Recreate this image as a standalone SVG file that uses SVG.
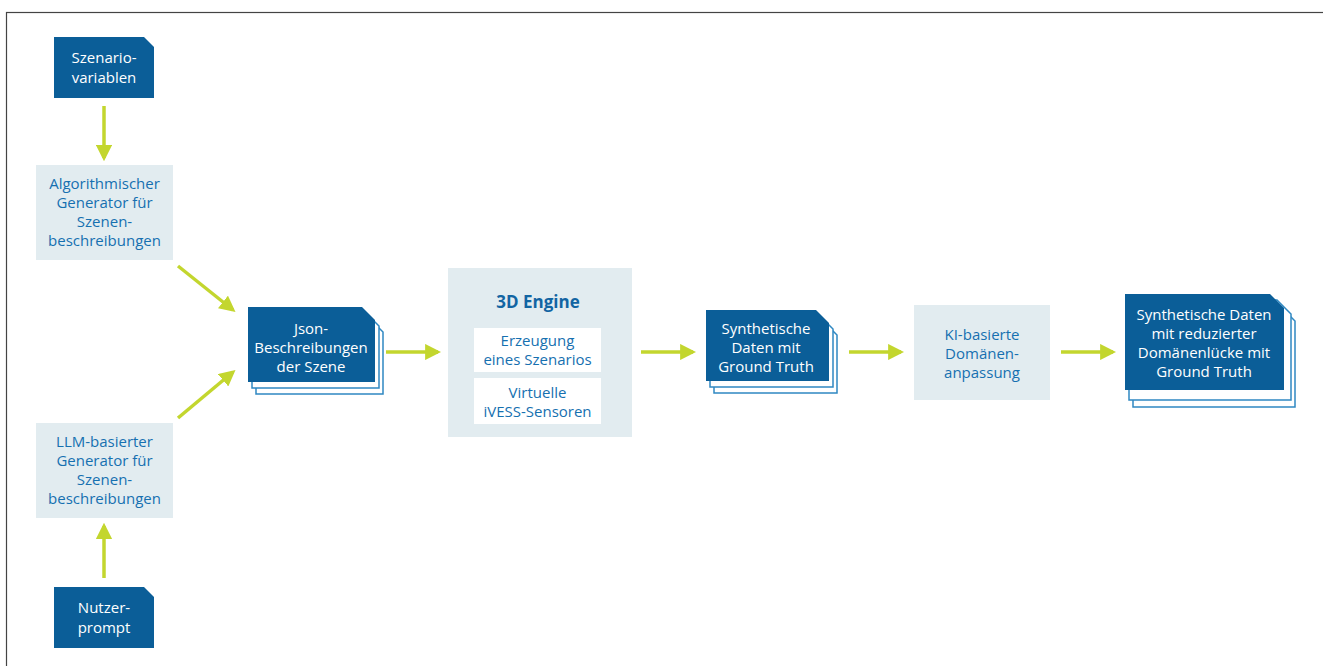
<svg xmlns="http://www.w3.org/2000/svg" width="1323" height="666" viewBox="0 0 1323 666">
  <defs>
    <style>
      .dark { fill: #0b5e98; }
      .light { fill: #e2ecf0; }
      .layer { fill: #ffffff; stroke: #2f88c2; stroke-width: 1.5; }
      .inner { fill: #ffffff; }
      .tw { font-family: "Open Sans", "Noto Sans", sans-serif; font-size: 15px; fill: #ffffff; text-anchor: middle; }
      .tb { font-family: "Open Sans", "Noto Sans", sans-serif; font-size: 15px; fill: #1670b0; text-anchor: middle; }
      .title { font-family: "Open Sans", "Noto Sans", sans-serif; font-size: 17px; font-weight: 700; fill: #1265a3; text-anchor: middle; }
      .conn { stroke: #c3d62e; stroke-width: 3.5; fill: none; marker-end: url(#head); }
    </style>
    <marker id="head" viewBox="0 0 10 10" refX="8" refY="5" markerWidth="4.6" markerHeight="4.6" orient="auto" markerUnits="strokeWidth">
      <path d="M0,0 L10,5 L0,10 Z" fill="#c3d62e"/>
    </marker>
  </defs>

  <rect x="0" y="0" width="1323" height="666" fill="#ffffff"/>
  <!-- outer frame -->
  <rect x="6.5" y="12.5" width="1330" height="700" fill="none" stroke="#444444" stroke-width="1.2"/>

  <!-- connectors -->
  <g id="connectors">
    <line class="conn" x1="104" y1="106" x2="104" y2="158"/>
    <line class="conn" x1="178" y1="266" x2="233" y2="310"/>
    <line class="conn" x1="178" y1="418" x2="233" y2="372"/>
    <line class="conn" x1="104" y1="578" x2="104" y2="526"/>
    <line class="conn" x1="386" y1="352" x2="438" y2="352"/>
    <line class="conn" x1="641" y1="352" x2="693" y2="352"/>
    <line class="conn" x1="849" y1="352" x2="901" y2="352"/>
    <line class="conn" x1="1061" y1="352" x2="1113" y2="352"/>
  </g>

  <!-- Szenariovariablen -->
  <g id="szenariovariablen">
    <path class="dark" d="M54,37 H144 L154,47 V98 H54 Z"/>
    <text class="tw" x="104" y="63">Szenario-</text>
    <text class="tw" x="104" y="83">variablen</text>
  </g>

  <!-- Algorithmischer Generator -->
  <g id="algo-generator">
    <rect class="light" x="36" y="165" width="137" height="95"/>
    <text class="tb" x="104.5" y="189">Algorithmischer</text>
    <text class="tb" x="104.5" y="208">Generator für</text>
    <text class="tb" x="104.5" y="227">Szenen-</text>
    <text class="tb" x="104.5" y="246">beschreibungen</text>
  </g>

  <!-- LLM-basierter Generator -->
  <g id="llm-generator">
    <rect class="light" x="36" y="423" width="137" height="95"/>
    <text class="tb" x="104.5" y="447">LLM-basierter</text>
    <text class="tb" x="104.5" y="466">Generator für</text>
    <text class="tb" x="104.5" y="485">Szenen-</text>
    <text class="tb" x="104.5" y="504">beschreibungen</text>
  </g>

  <!-- Nutzerprompt -->
  <g id="nutzerprompt">
    <path class="dark" d="M54,587 H144 L154,597 V648 H54 Z"/>
    <text class="tw" x="104" y="613">Nutzer-</text>
    <text class="tw" x="104" y="633">prompt</text>
  </g>

  <!-- Json-Beschreibungen (stacked) -->
  <g id="json">
    <path class="layer" d="M256,319 H370 L383,332 V394 H256 Z"/>
    <path class="layer" d="M252,313 H366 L379,326 V388 H252 Z"/>
    <path class="dark" d="M248,307 H362 L375,320 V382 H248 Z"/>
    <text class="tw" x="311" y="334">Json-</text>
    <text class="tw" x="311" y="353">Beschreibungen</text>
    <text class="tw" x="311" y="372">der Szene</text>
  </g>

  <!-- 3D Engine -->
  <g id="engine">
    <rect class="light" x="448" y="268" width="184" height="169"/>
    <text class="title" x="538" y="308">3D Engine</text>
    <rect class="inner" x="474" y="328" width="127" height="44"/>
    <text class="tb" x="537.5" y="346">Erzeugung</text>
    <text class="tb" x="537.5" y="365">eines Szenarios</text>
    <rect class="inner" x="474" y="378" width="127" height="46"/>
    <text class="tb" x="537.5" y="398">Virtuelle</text>
    <text class="tb" x="537.5" y="417">iVESS-Sensoren</text>
  </g>

  <!-- Synthetische Daten -->
  <g id="synth-data">
    <path class="layer" d="M714,322 H824 L837,335 V393 H714 Z"/>
    <path class="layer" d="M710,316 H820 L833,329 V387 H710 Z"/>
    <path class="dark" d="M706,310 H816 L829,323 V381 H706 Z"/>
    <text class="tw" x="766" y="334">Synthetische</text>
    <text class="tw" x="766" y="353">Daten mit</text>
    <text class="tw" x="766" y="372">Ground Truth</text>
  </g>

  <!-- KI-basierte Domaenenanpassung -->
  <g id="ki-anpassung">
    <rect class="light" x="914" y="305" width="136" height="95"/>
    <text class="tb" x="982" y="340">KI-basierte</text>
    <text class="tb" x="982" y="359">Domänen-</text>
    <text class="tb" x="982" y="378">anpassung</text>
  </g>

  <!-- Synthetische Daten mit reduzierter Domaenenluecke -->
  <g id="synth-reduced">
    <path class="layer" d="M1133,307 H1281 L1295,321 V407 H1133 Z"/>
    <path class="layer" d="M1129,300 H1277 L1291,314 V400 H1129 Z"/>
    <path class="dark" d="M1125,294 H1270 L1284,308 V390 H1125 Z"/>
    <text class="tw" x="1204" y="320">Synthetische Daten</text>
    <text class="tw" x="1204" y="339">mit reduzierter</text>
    <text class="tw" x="1204" y="358">Domänenlücke mit</text>
    <text class="tw" x="1204" y="377">Ground Truth</text>
  </g>
</svg>
